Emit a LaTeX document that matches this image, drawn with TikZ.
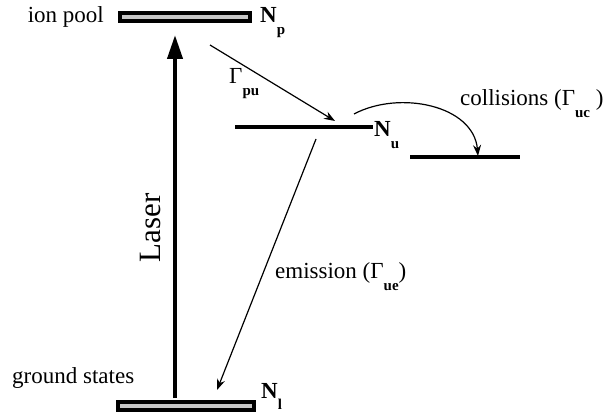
\documentclass[tikz,border=0pt]{standalone}
\usepackage{fontspec}
\setmainfont{Liberation Serif}
\usetikzlibrary{arrows.meta, positioning}

\newcommand{\levsub}[1]{\raisebox{-0.5em}{\bfseries\fontsize{15}{15}\selectfont #1}}

\tikzset{
  poolbar/.style={draw=black, line width=4pt, fill=gray!45, minimum width=130pt, minimum height=8.5pt, inner sep=0pt},
  levline/.style={line width=3.5pt},
  thinarrow/.style={line width=1.2pt, -{Stealth[length=11pt, width=8pt]}},
  lbl/.style={font=\fontsize{23}{26}\selectfont, inner sep=0pt},
  levname/.style={font=\fontsize{23}{26}\selectfont\bfseries, inner sep=0pt, anchor=base west}
}

\begin{document}
\begin{tikzpicture}[x=1pt, y=-1pt]
      \useasboundingbox (0,0) rectangle (612,419);

      % 1. the two wide levels
      \node[poolbar] (pool) at (185,17) {};
      \node[poolbar, minimum width=136pt] (ground) at (186,406) {};

      % 2. upper level and collision level
      \coordinate (u_1) at (235,127);
      \coordinate (u_2) at (373,127);
      \coordinate (c_1) at (410,157);
      \coordinate (c_2) at (520,157);
      \draw[levline] (u_1) -- (u_2);
      \draw[levline] (c_1) -- (c_2);

      % 3. laser
      \coordinate (las_0) at (175,398);
      \coordinate (las_1) at (175,35);
      \draw[line width=4pt, -{Triangle[length=24pt, width=15pt]}] (las_0) -- (las_1);
      \node[lbl, font=\fontsize{31}{34}\selectfont, rotate=90] (laser) at (150,228) {Laser};

      % 4. transfer, emission, collisions
      \coordinate (pu_0) at (210,45);
      \coordinate (pu_1) at (335,121);
      \draw[thinarrow] (pu_0) -- (pu_1);
      \coordinate (ue_0) at (316,139);
      \coordinate (ue_1) at (217,390);
      \draw[thinarrow] (ue_0) -- (ue_1);
      \coordinate (uc_0) at (354,114);
      \coordinate (uc_1) at (478,156);
      \draw[thinarrow] (uc_0) to[out=28, in=95] (uc_1);

      % 5. labels
      \node[lbl, anchor=base east] (poollbl) at (104,23) {ion pool};
      \node[lbl, anchor=base west] (groundlbl) at (12,383) {ground states};
      \node[levname] (Np) at (260,23) {N\levsub{p}};
      \node[levname] (Nu) at (374,137) {N\levsub{u}};
      \node[levname] (Nl) at (261,398) {N\levsub{l}};
      \node[lbl, anchor=base west] (gpu) at (229,84) {Γ\levsub{pu}};
      \node[lbl, anchor=base west] (gcoll) at (460,106) {collisions (Γ\levsub{uc} )};
      \node[lbl, anchor=base west] (gemis) at (275,279) {emission (Γ\levsub{ue})};
\end{tikzpicture}
\end{document}
